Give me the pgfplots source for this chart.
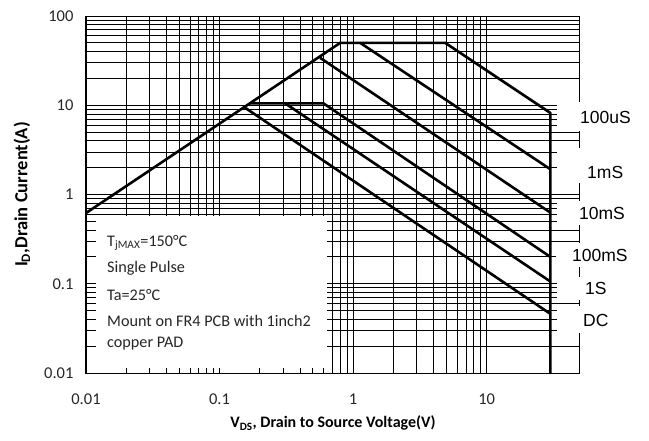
\documentclass[border=0pt]{standalone}
\usepackage{pgfplots}
\pgfplotsset{compat=1.18}
\usepackage{fontspec}
\setmainfont{Carlito}
\newfontfamily\arial{Liberation Sans}

\begin{document}
\begin{tikzpicture}
\begin{axis}[
  xmode=log, ymode=log,
  scale only axis, width=494pt, height=357pt,
  xmin=0.01, xmax=50, ymin=0.01, ymax=100,
  xtick={0.01,0.1,1,10}, xticklabels={0.01,0.1,1,10},
  ytick={0.01,0.1,1,10,100}, yticklabels={0.01,0.1,1,10,100},
  grid=both,
  major grid style={black, line width=0.8pt},
  minor grid style={black, line width=0.8pt},
  major tick length=0pt, minor tick length=0pt,
  axis line style={black, line width=1pt},
  tick label style={font=\fontsize{16.5}{19}\selectfont, text=black!85},
  xticklabel style={yshift=-17pt},
  yticklabel style={xshift=-9pt},
  xlabel={\textbf{V\textsubscript{DS}, Drain to Source Voltage(V)}},
  ylabel={\textbf{I\textsubscript{D},Drain Current(A)}},
  every axis x label/.style={at={(axis description cs:0.5,-0.140)}, anchor=center, font=\fontsize{16}{19}\selectfont},
  every axis y label/.style={at={(axis description cs:-0.1296,0.5)}, rotate=90, anchor=center, font=\fontsize{18.5}{21}\selectfont},
  clip=false,
]
% safe operating area boundary: R_DS(on) limit, current limit, 100us power limit, V_DS max
\addplot[black, line width=2.6pt, line join=round] coordinates {
  (0.01,0.62) (0.8,50) (4.9,50) (30,8.2) (30,0.01)};
% 1 ms
\addplot[black, line width=2.6pt] coordinates {(1.13,50) (30,1.92)};
% 10 ms
\addplot[black, line width=2.6pt] coordinates {(0.566,34) (30,0.627)};
% 100 ms, with the 10.5 A plateau
\addplot[black, line width=2.6pt, line join=round] coordinates {(0.17,10.5) (0.6,10.5) (30,0.2)};
% 1 s
\addplot[black, line width=2.6pt] coordinates {(0.31,10.5) (30,0.106)};
% DC
\addplot[black, line width=2.6pt] coordinates {(0.155,9.4) (30,0.046)};
\end{axis}

\begin{scope}[x=1pt, y=-1pt, shift={(-86pt,373pt)}]
  \path (0,0) rectangle (649,440);
  % conditions box
  \fill[white] (96,216) rectangle (327,368);
  \begin{scope}[every node/.style={anchor=west, inner sep=0pt, font=\fontsize{16.2}{19}\selectfont, text=black!85}]
    \node at (107,243) {T\textsubscript{jMAX}=150°C};
    \node at (107,268) {Single Pulse};
    \node at (107,295) {Ta=25°C};
    \node at (107,321) {Mount on FR4 PCB with 1inch2};
    \node at (107,344) {copper PAD};
  \end{scope}
  % pulse-width labels
  \fill[white] (557,102) rectangle (649,131);
  \fill[white] (557,148) rectangle (649,183);
  \fill[white] (557,201) rectangle (649,225);
  \fill[white] (556,243) rectangle (649,267);
  \fill[white] (557,277) rectangle (649,300);
  \fill[white] (557,306) rectangle (649,333);
  \begin{scope}[every node/.style={anchor=west, inner sep=0pt, font=\arial\fontsize{17.5}{20}\selectfont}]
    \node at (580,117) {100uS};
    \node at (587,172) {1mS};
    \node at (579,213) {10mS};
    \node at (572,255) {100mS};
    \node at (585,288) {1S};
    \node at (583,320) {DC};
  \end{scope}
\end{scope}
\end{tikzpicture}
\end{document}
